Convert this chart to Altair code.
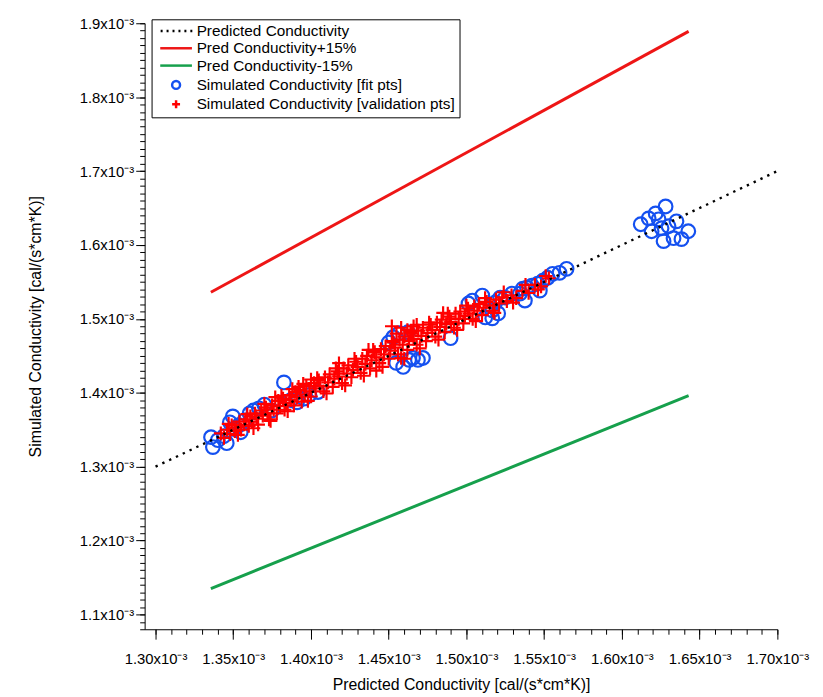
import altair as alt
import pandas as pd

# ---- values are in units of 1e-3 cal/(s*cm*K) ----
S_PRED = "Predicted Conductivity"
S_PLUS = "Pred Conductivity+15%"
S_MINUS = "Pred Conductivity-15%"
S_FIT = "Simulated Conductivity [fit pts]"
S_VAL = "Simulated Conductivity [validation pts]"
series_names = [S_PRED, S_PLUS, S_MINUS, S_FIT, S_VAL]

pred_line_x = [1.30, 1.70]
pred_line_y = [1.30, 1.70]
plus15_x = [1.3356, 1.6429]
plus15_y = [1.536, 1.889]
minus15_x = [1.3356, 1.6429]
minus15_y = [1.135, 1.396]

fit_pred = [1.3357, 1.3369, 1.3401, 1.3439, 1.3458, 1.3478, 1.3497, 1.3510, 1.3535, 1.3548,
            1.3573, 1.3605, 1.3630, 1.3665, 1.3700, 1.3750, 1.3826, 1.3870, 1.3910, 1.3955,
            1.3990, 1.4045, 1.4500, 1.4529, 1.4567, 1.4548, 1.4593, 1.4631, 1.4656, 1.4688,
            1.4720, 1.4624, 1.4898, 1.5013, 1.5038, 1.5102, 1.5121, 1.5166, 1.5249, 1.5293,
            1.5185, 1.5217, 1.5166, 1.5204, 1.5344, 1.5363, 1.5389, 1.5421, 1.5459, 1.5491,
            1.5522, 1.5554, 1.5599, 1.5644, 1.5376, 1.5472,
            1.6121, 1.6172, 1.6217, 1.6281, 1.6191, 1.6255, 1.6300, 1.6351, 1.6268, 1.6332,
            1.6427, 1.6383, 1.6236]
fit_sim = [1.3399, 1.3265, 1.3359, 1.3412, 1.3318, 1.3600, 1.3680, 1.3506, 1.3560, 1.3466,
           1.3627, 1.3720, 1.3760, 1.3790, 1.3840, 1.3760, 1.4140, 1.3900, 1.3870, 1.3920,
           1.3970, 1.4010, 1.4680, 1.4752, 1.4806, 1.4404, 1.4350, 1.4444, 1.4471, 1.4444,
           1.4471, 1.4819, 1.4739, 1.5208, 1.5248, 1.5315, 1.5020, 1.5007, 1.5288, 1.5342,
           1.5221, 1.5288, 1.5114, 1.5074, 1.5342, 1.5409, 1.5422, 1.5449, 1.5476, 1.5516,
           1.5556, 1.5610, 1.5623, 1.5677, 1.5248, 1.5382,
           1.6280, 1.6360, 1.6427, 1.6521, 1.6186, 1.6226, 1.6253, 1.6320, 1.6052, 1.6092,
           1.6186, 1.6079, 1.6347]

val_pred = [1.342, 1.344, 1.346, 1.348, 1.349, 1.351, 1.352, 1.354, 1.355, 1.357,
            1.358, 1.360, 1.361, 1.362, 1.364, 1.365, 1.366, 1.368, 1.369, 1.371,
            1.372, 1.373, 1.375, 1.376, 1.378, 1.379, 1.380, 1.382, 1.383, 1.384,
            1.386, 1.387, 1.389, 1.390, 1.391, 1.393, 1.394, 1.396, 1.397, 1.399,
            1.400, 1.402, 1.403, 1.405, 1.406, 1.408, 1.409, 1.411, 1.412, 1.414,
            1.415, 1.417, 1.418, 1.420, 1.421, 1.423, 1.424, 1.426, 1.427, 1.429,
            1.430, 1.432, 1.433, 1.435, 1.436, 1.438, 1.439, 1.441, 1.442, 1.444,
            1.445, 1.447, 1.448, 1.450, 1.451, 1.453, 1.454, 1.456, 1.457, 1.459,
            1.460, 1.462, 1.463, 1.465, 1.466, 1.468, 1.469, 1.471, 1.472, 1.474,
            1.475, 1.477, 1.478, 1.480, 1.481, 1.483, 1.484, 1.486, 1.487, 1.489,
            1.490, 1.492, 1.493, 1.495, 1.496, 1.498, 1.499, 1.501, 1.502, 1.504,
            1.505, 1.507, 1.508, 1.510, 1.511, 1.513, 1.515, 1.517, 1.519, 1.521,
            1.523, 1.526, 1.529, 1.532, 1.536, 1.540, 1.544, 1.548, 1.553,
            1.347, 1.353, 1.359, 1.363, 1.370, 1.374, 1.381, 1.385, 1.392, 1.398,
            1.404, 1.410, 1.416, 1.422, 1.428, 1.434, 1.440, 1.446, 1.452, 1.458,
            1.464, 1.470, 1.476, 1.482, 1.488, 1.494, 1.500, 1.506, 1.512, 1.518,
            1.524, 1.530, 1.538, 1.546, 1.551, 1.455, 1.437, 1.418, 1.400, 1.468,
            1.485, 1.442, 1.460, 1.452, 1.458, 1.462, 1.466, 1.388, 1.395, 1.377]
val_sim = [1.345, 1.339, 1.350, 1.344, 1.356, 1.348, 1.353, 1.361, 1.350, 1.357,
           1.364, 1.355, 1.368, 1.361, 1.372, 1.365, 1.357, 1.376, 1.369, 1.380,
           1.373, 1.364, 1.383, 1.377, 1.372, 1.389, 1.382, 1.392, 1.377, 1.386,
           1.397, 1.390, 1.383, 1.401, 1.394, 1.404, 1.388, 1.398, 1.409, 1.402,
           1.395, 1.413, 1.406, 1.417, 1.409, 1.402, 1.421, 1.414, 1.425, 1.408,
           1.419, 1.429, 1.422, 1.413, 1.433, 1.426, 1.437, 1.421, 1.431, 1.442,
           1.435, 1.427, 1.446, 1.439, 1.450, 1.433, 1.444, 1.455, 1.448, 1.440,
           1.459, 1.452, 1.463, 1.446, 1.457, 1.468, 1.461, 1.452, 1.472, 1.465,
           1.476, 1.458, 1.470, 1.480, 1.473, 1.465, 1.484, 1.477, 1.488, 1.470,
           1.481, 1.492, 1.485, 1.476, 1.495, 1.489, 1.499, 1.482, 1.493, 1.503,
           1.496, 1.488, 1.507, 1.500, 1.510, 1.494, 1.504, 1.514, 1.507, 1.500,
           1.517, 1.511, 1.520, 1.505, 1.515, 1.523, 1.518, 1.511, 1.526, 1.521,
           1.529, 1.524, 1.532, 1.528, 1.538, 1.535, 1.546, 1.544, 1.555,
           1.358, 1.343, 1.371, 1.352, 1.385, 1.362, 1.396, 1.375, 1.408, 1.389,
           1.420, 1.399, 1.433, 1.410, 1.446, 1.423, 1.458, 1.435, 1.470, 1.447,
           1.482, 1.460, 1.495, 1.472, 1.507, 1.485, 1.518, 1.497, 1.528, 1.508,
           1.536, 1.522, 1.546, 1.540, 1.558, 1.480, 1.458, 1.440, 1.418, 1.492,
           1.508, 1.430, 1.446, 1.490, 1.488, 1.485, 1.490, 1.405, 1.412, 1.394]

x_major = [1.30, 1.35, 1.40, 1.45, 1.50, 1.55, 1.60, 1.65, 1.70]
x_minor = [round(1.30 + 0.01 * i, 2) for i in range(41)]
y_major = [1.1, 1.2, 1.3, 1.4, 1.5, 1.6, 1.7, 1.8, 1.9]
y_minor = [round(1.08 + 0.01 * i, 2) for i in range(83)]

X_DOMAIN = [1.293, 1.70]
Y_DOMAIN = [1.08, 1.90]

FONT = "Liberation Sans"
RED = "#EE1616"
GREEN = "#16A04C"
BLUE = "#1450F0"

pred_df = pd.DataFrame({"pred": pred_line_x, "sim": pred_line_y})
plus_df = pd.DataFrame({"pred": plus15_x, "sim": plus15_y})
minus_df = pd.DataFrame({"pred": minus15_x, "sim": minus15_y})
pts_df = pd.concat([
    pd.DataFrame({"pred": fit_pred, "sim": fit_sim, "series": S_FIT}),
    pd.DataFrame({"pred": val_pred, "sim": val_sim, "series": S_VAL}),
], ignore_index=True)

xs = alt.Scale(domain=X_DOMAIN, nice=False, zero=False)
ys = alt.Scale(domain=Y_DOMAIN, nice=False, zero=False)

x_axis = alt.Axis(
    orient="bottom", values=x_major, tickCount=500,
    labelExpr="format(datum.value, '.2f') + 'x10⁻³'",
    title="Predicted Conductivity [cal/(s*cm*K)]",
    tickSize=10, labelPadding=13, labelFontSize=15, labelFont=FONT, labelColor="black",
    titleFont=FONT, titleFontSize=16, titleFontWeight="normal", titleColor="black",
    titlePadding=10, domainColor="black", tickColor="black", grid=False,
    labelOverlap=False, labelFlush=False, labelBound=False,
)
y_axis = alt.Axis(
    orient="left", values=y_major, tickCount=500,
    labelExpr="format(datum.value, '.1f') + 'x10⁻³'",
    title="Simulated Conductivity [cal/(s*cm*K)]",
    tickSize=9, labelPadding=2, labelFontSize=15, labelFont=FONT, labelColor="black",
    titleFont=FONT, titleFontSize=16, titleFontWeight="normal", titleColor="black",
    titlePadding=36, domainColor="black", tickColor="black", grid=False,
    labelOverlap=False, labelFlush=False, labelBound=False,
)
x_minor_axis = alt.Axis(orient="bottom", values=x_minor, tickCount=500, labels=False,
                        title=None, tickSize=5, domain=False, tickColor="black", grid=False)
y_minor_axis = alt.Axis(orient="left", values=y_minor, tickCount=500, labels=False,
                        title=None, tickSize=5, domain=False, tickColor="black", grid=False)

plus_layer = alt.Chart(plus_df).mark_line(color=RED, strokeWidth=3).encode(
    x=alt.X("pred:Q", scale=xs, axis=x_axis),
    y=alt.Y("sim:Q", scale=ys, axis=y_axis),
)
minus_layer = alt.Chart(minus_df).mark_line(color=GREEN, strokeWidth=3).encode(
    x=alt.X("pred:Q", scale=xs, axis=x_minor_axis),
    y=alt.Y("sim:Q", scale=ys, axis=y_minor_axis),
)

shape_range = [
    "M-3.9,0h0.5M-2.4,0h0.5M-0.9,0h0.5M0.6,0h0.5M2.1,0h0.5M3.6,0h0.5",
    "M-4,0H4",
    "M-4,0H4",
    "circle",
    "M-1,0H1M0,-1V1",
]
color_range = ["black", RED, GREEN, BLUE, "#FF0000"]

legend = alt.Legend(
    orient="none", legendX=7, legendY=-4, title=None,
    strokeColor="black", fillColor="white", padding=4,
    labelFont=FONT, labelFontSize=15.5, labelColor="black", labelLimit=500,
    symbolSize=64, symbolOffset=13, labelOffset=13, rowPadding=0.5,
    symbolStrokeWidth=2.5,
)

pts_layer = alt.Chart(pts_df).mark_point(filled=False, size=190, strokeWidth=2.2, opacity=1).encode(
    x=alt.X("pred:Q", scale=xs, axis=None),
    y=alt.Y("sim:Q", scale=ys, axis=None),
    color=alt.Color("series:N", scale=alt.Scale(domain=series_names, range=color_range), legend=legend),
    shape=alt.Shape("series:N", scale=alt.Scale(domain=series_names, range=shape_range), legend=legend),
)

pred_layer = alt.Chart(pred_df).mark_line(color="black", strokeWidth=2.4, strokeDash=[2.4, 5.2]).encode(
    x=alt.X("pred:Q", scale=xs, axis=None),
    y=alt.Y("sim:Q", scale=ys, axis=None),
)

chart = alt.layer(plus_layer, minus_layer, pts_layer, pred_layer).resolve_axis(
    x="independent", y="independent"
).properties(
    width=639, height=612,
    autosize=alt.AutoSizeParams(type="none"),
    padding={"left": 138, "top": 12, "right": 38, "bottom": 65},
    background="white",
).configure_view(stroke=None)

chart.save("out.html", embed_options={"renderer": "svg", "actions": False})
